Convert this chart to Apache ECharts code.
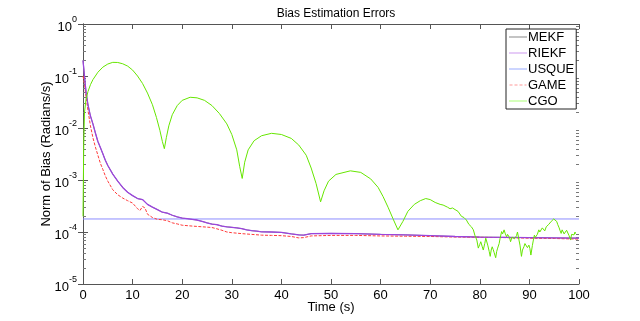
<!DOCTYPE html>
<html><head><meta charset="utf-8">
<script src="https://cdn.jsdelivr.net/npm/echarts@6/dist/echarts.min.js"></script>
<style>html,body{margin:0;padding:0;background:#fff}#c{width:640px;height:321px}</style>
</head><body><div id="c"></div>
<script>
const seriesNames = ['MEKF','RIEKF','USQUE','GAME','CGO'];
const xTicks = [0,10,20,30,40,50,60,70,80,90,100];
const yTicks = [1e-5,1e-4,1e-3,1e-2,1e-1,1];

const filterT = [0,0.3,0.6,1,1.5,2,2.5,3,3.5,4,4.5,5,6,7,8,9,10,11,12,13,14,15,16,17,18,19,20,21,22,23,24,25,26,27,28,29,30,31,32,33,34,35,36,38,40,42,43.5,44.5,46,50,55,60,65,70,75,80,85,90,95,100];
const mekfV = [0.2,0.1,0.05,0.028,0.017,0.012,0.008,0.0055,0.0042,0.0032,0.0024,0.0019,0.0013,0.00095,0.00072,0.00058,0.0005,0.00044,0.00042,0.00034,0.0003,0.00027,0.00024,0.00023,0.00021,0.000195,0.000185,0.00018,0.000175,0.00017,0.00016,0.00015,0.000142,0.000138,0.00013,0.000126,0.000123,0.00012,0.000116,0.00011,0.000106,0.000104,0.000101,0.0001,0.000098,0.000092,0.000088,0.000087,0.000093,0.000094,0.000093,0.00009,0.000088,0.000085,0.000082,0.00008,0.000079,0.000078,0.000077,0.000076];
const riekfV = [0.2,0.1,0.05,0.028,0.017,0.012,0.008,0.0055,0.0042,0.0032,0.0024,0.0019,0.0013,0.00095,0.00072,0.00058,0.0005,0.00044,0.00042,0.00034,0.0003,0.00027,0.00024,0.00023,0.00021,0.000195,0.000185,0.00018,0.000175,0.00017,0.00016,0.00015,0.000142,0.000138,0.00013,0.000126,0.000123,0.00012,0.000116,0.00011,0.000106,0.000104,0.000101,0.0001,0.000098,0.000092,0.000088,0.000087,0.000093,0.000094,0.000093,0.00009,0.000088,0.000085,0.000082,0.00008,0.000079,0.000078,0.000077,0.000076];
const usqueT = [0,100];
const usqueV = [0.000178,0.000178];
const gameT = [0,0.3,0.6,1,1.5,2,2.5,3,3.5,4,4.5,5,6,7,8,9,10,11,11.5,12,12.5,13,14,15,16,17,18,19,20,22,24,26,27,28,29,30,31,32,34,36,38,40,42,43.5,44.5,46,50,55,60,65,70,75,80,85,90,95,100];
const gameV = [0.1,0.07,0.04,0.022,0.011,0.0065,0.0043,0.003,0.0021,0.0016,0.0012,0.00095,0.00065,0.00052,0.00045,0.0004,0.00036,0.00028,0.00026,0.00031,0.00029,0.00022,0.00019,0.000175,0.000172,0.000165,0.00015,0.000143,0.000135,0.00013,0.000126,0.000122,0.000115,0.000108,0.0001,0.000097,0.000095,0.000093,0.00009,0.000087,0.000086,0.000085,0.000082,0.000077,0.000078,0.000084,0.000086,0.000086,0.000084,0.000083,0.000082,0.00008,0.000079,0.000078,0.000076,0.000075,0.000073];
const cgoT = [0,0.15,0.3,0.6,1,1.5,2,3,4,5,6,7,8,9,10,11,12,13,14,14.8,15.5,16,16.4,16.8,17.3,18,19,20,21.6,23,24.5,26,27.5,29,30,31,31.6,32.1,32.6,33.3,34.5,36,38,40,42,43.5,45,46,47,47.9,48.6,49.5,51,53.9,56,58,59.5,60.5,61.5,62.5,63.5,64.5,65.5,66.8,68,69.1,70,71,72,72.6,73,73.5,74,74.5,75,75.6,76.3,76.8,77.3,77.8,78.3,78.7,79,79.4,79.7,80.0,80.2,80.5,80.7,81.0,81.2,81.4,81.6,81.9,82.1,82.3,82.5,82.7,82.9,83.2,83.4,83.6,83.9,84.1,84.4,84.6,84.9,85.1,85.4,85.6,85.8,86.0,86.2,86.5,86.7,87.0,87.2,87.4,87.6,87.9,88.1,88.4,88.6,88.9,89.1,89.4,89.6,89.9,90.1,90.3,90.6,90.8,91.0,91.2,91.4,91.6,91.9,92.1,92.4,92.6,92.9,93.1,93.4,93.7,93.9,94.1,94.4,94.6,94.9,95.2,95.5,95.7,96.0,96.2,96.4,96.6,96.8,97.0,97.3,97.5,97.8,98.0,98.3,98.5,98.8,99.0,99.2,99.3,99.5,99.7,100];
const cgoV = [0.0002,0.005,0.02,0.035,0.05,0.068,0.085,0.118,0.148,0.17,0.183,0.182,0.172,0.155,0.13,0.1,0.072,0.047,0.028,0.016,0.009,0.0055,0.004,0.0065,0.011,0.018,0.027,0.034,0.039,0.038,0.034,0.027,0.019,0.012,0.0075,0.0038,0.0018,0.00107,0.0022,0.0038,0.0057,0.0071,0.0079,0.0075,0.0063,0.0047,0.003,0.0017,0.00085,0.00038,0.00062,0.00095,0.00128,0.0015,0.0014,0.00105,0.00072,0.00048,0.0003,0.00018,0.00011,0.00016,0.00025,0.00034,0.0004,0.00044,0.00042,0.00037,0.00034,0.00033,0.00031,0.0003,0.00028,0.00029,0.00027,0.00025,0.0002,0.00019,0.00017,0.00014,0.000126,0.00011,0.000087,0.00007,0.000049,0.000058,0.000065,0.000052,0.000045,0.00006,0.000076,0.00007,0.000056,0.000042,0.000034,0.000045,0.000052,0.000046,0.00004,0.000032,0.000042,0.000049,0.00006,0.000076,0.000102,0.000092,0.00011,0.000095,0.000081,0.00009,0.000095,0.000078,0.000065,0.00008,0.000087,0.000074,0.00007,0.000085,0.0001,0.00007,0.000056,0.000034,0.000045,0.000052,0.00006,0.000065,0.00005,0.000056,0.000048,0.000036,0.000055,0.00007,0.000087,0.000079,0.000076,0.00009,0.00011,0.0001,0.000095,0.00012,0.000112,0.000105,0.000126,0.000118,0.00014,0.000132,0.00016,0.000155,0.000178,0.000172,0.00016,0.00014,0.00012,0.000105,0.000094,0.00011,0.000105,0.000092,0.0001,0.000108,0.00011,0.000085,0.00007,0.00009,0.000095,0.000088,0.0001,0.000093];

const pair = (t, v) => t.map((x, i) => [x, v[i]]);
const minorVals = [];
for (let e = -5; e < 0; e++) for (let k = 2; k <= 9; k++) minorVals.push(k * Math.pow(10, e));

const FONT = "'Liberation Sans', Arial, sans-serif";
const chart = echarts.init(document.getElementById('c'), null, {renderer: 'canvas'});
const axisLineStyle = {color: '#555', width: 1};
const dashIcon = 'path://M0,0h3v1h-3zM5,0h3v1h-3zM10,0h3v1h-3zM15,0h2v1h-2z';
chart.setOption({
  animation: false,
  textStyle: {fontFamily: FONT},
  title: {text: 'Bias Estimation Errors', left: 331, top: 3, textAlign: 'center',
    textStyle: {fontFamily: FONT, fontSize: 12, fontWeight: 'normal', color: '#000'}},
  grid: {left: 83, right: 61, top: 24, bottom: 37},
  legend: {
    orient: 'vertical', left: 506, top: 29, padding: [1, 2, 1, 3],
    itemWidth: 18, itemHeight: 1, itemGap: 2, icon: 'rect',
    borderColor: '#222', borderWidth: 1, backgroundColor: '#fff',
    textStyle: {fontFamily: FONT, fontSize: 13, color: '#000', lineHeight: 14, padding: [0, 0, 0, -4]},
    data: [
      {name: 'MEKF', itemStyle: {color: '#888'}},
      {name: 'RIEKF', itemStyle: {color: '#cc99ee'}},
      {name: 'USQUE', itemStyle: {color: '#99aaff'}},
      {name: 'GAME', icon: dashIcon, itemStyle: {color: '#ff9999'}},
      {name: 'CGO', itemStyle: {color: '#aaff77'}}
    ]
  },
  xAxis: [{
    type: 'value', min: 0, max: 100, interval: 10,
    axisLine: {lineStyle: axisLineStyle},
    axisTick: {inside: true, length: 5, lineStyle: axisLineStyle},
    axisLabel: {fontFamily: FONT, fontSize: 13, color: '#000', margin: 5},
    splitLine: {show: false},
    name: 'Time (s)', nameLocation: 'middle', nameGap: 17, nameMoveOverlap: false,
    nameTextStyle: {fontFamily: FONT, fontSize: 13, color: '#000'}
  }, {
    type: 'value', min: 0, max: 100, interval: 10, position: 'top',
    axisLine: {lineStyle: axisLineStyle},
    axisTick: {inside: true, length: 5, lineStyle: axisLineStyle},
    axisLabel: {show: false}, splitLine: {show: false}
  }],
  yAxis: [{
    type: 'log', logBase: 10, min: 1e-5, max: 1,
    axisLine: {show: true, lineStyle: axisLineStyle},
    axisTick: {show: true, inside: true, length: 5, lineStyle: axisLineStyle},
    axisLabel: {
      margin: 6, color: '#000',
      formatter: v => '{b|10}{s|' + Math.round(Math.log10(v)) + '}',
      rich: {b: {fontFamily: FONT, fontSize: 13, color: '#000', padding: [6, 0, 0, 0]},
             s: {fontFamily: FONT, fontSize: 9, color: '#000', padding: [0, 0, 8, 0]}}
    },
    splitLine: {show: false},
    name: 'Norm of Bias (Radians/s)', nameLocation: 'middle', nameGap: 30, nameMoveOverlap: false,
    nameTextStyle: {fontFamily: FONT, fontSize: 13, color: '#000'}
  }, {
    type: 'log', logBase: 10, min: 1e-5, max: 1, position: 'right',
    axisLine: {show: true, lineStyle: axisLineStyle},
    axisTick: {show: true, inside: true, length: 5, lineStyle: axisLineStyle},
    axisLabel: {show: false}, splitLine: {show: false}
  }],
  series: [
    {type: 'custom', silent: true, clip: false, z: 1,
     data: minorVals.map(v => [0, v]),
     renderItem: (params, api) => {
       const v = api.value(1);
       const l = api.coord([0, v]);
       const r = api.coord([100, v]);
       const st = {stroke: '#777', lineWidth: 1};
       return {type: 'group', children: [
         {type: 'line', shape: {x1: l[0], y1: Math.round(l[1]) + 0.5, x2: l[0] + 3, y2: Math.round(l[1]) + 0.5}, style: st},
         {type: 'line', shape: {x1: r[0] - 3, y1: Math.round(r[1]) + 0.5, x2: r[0], y2: Math.round(r[1]) + 0.5}, style: st}
       ]};
     }},
    {name: 'MEKF', type: 'line', symbol: 'none', data: pair(filterT, mekfV),
     lineStyle: {color: '#888', width: 1}, itemStyle: {color: '#888'}},
    {name: 'USQUE', type: 'line', symbol: 'none', data: pair(usqueT, usqueV),
     lineStyle: {color: '#8c8cff', width: 1}, itemStyle: {color: '#8c8cff'}},
    {name: 'GAME', type: 'line', symbol: 'none', data: pair(gameT, gameV),
     lineStyle: {color: '#ff3a3a', width: 1, type: [3, 1.5]}, itemStyle: {color: '#ff3a3a'}},
    {name: 'RIEKF', type: 'line', symbol: 'none', data: pair(filterT, riekfV),
     lineStyle: {color: '#9b45dd', width: 1.3}, itemStyle: {color: '#9b45dd'}},
    {name: 'CGO', type: 'line', symbol: 'none', data: pair(cgoT, cgoV),
     lineStyle: {color: '#66e600', width: 1}, itemStyle: {color: '#66e600'}}
  ]
});
</script></body></html>
